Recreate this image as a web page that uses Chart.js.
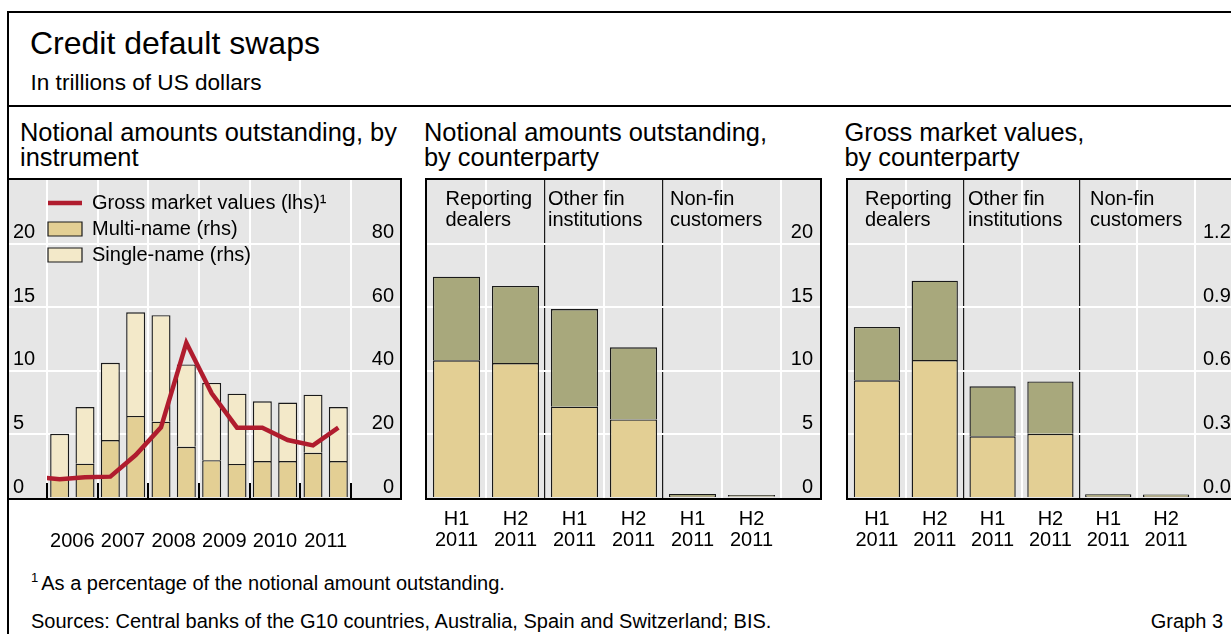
<!DOCTYPE html>
<html>
<head>
<meta charset="utf-8">
<script src="https://cdn.jsdelivr.net/npm/chart.js@4.4.1/dist/chart.umd.min.js"></script>
<style>
html,body{margin:0;padding:0;width:1231px;height:634px;overflow:hidden;background:#fff;
  font-family:"Liberation Sans",Arial,Helvetica,sans-serif;color:#000;}
.abs{position:absolute;white-space:nowrap;z-index:3;}
#frame{position:absolute;left:7px;top:11px;width:1400px;height:800px;border-left:2px solid #000;border-top:2px solid #000;}
#rule{position:absolute;left:7px;top:105px;width:1400px;height:2px;background:#000;}
canvas{position:absolute;z-index:1;}
.pt{font-size:25.4px;line-height:25px;}
.gl{font-size:20px;line-height:21px;}
.ft{font-size:20px;line-height:20px;}
</style>
</head>
<body>
<div id="frame"></div>
<div id="rule"></div>
<div class="abs" style="left:30px;top:26.5px;font-size:32px;line-height:32px;">Credit default swaps</div>
<div class="abs" style="left:30.5px;top:71.5px;font-size:22.6px;line-height:22px;">In trillions of US dollars</div>

<div class="abs pt" style="left:20px;top:120px;">Notional amounts outstanding, by<br>instrument</div>
<div class="abs pt" style="left:424px;top:120px;">Notional amounts outstanding,<br>by counterparty</div>
<div class="abs pt" style="left:844.5px;top:120px;">Gross market values,<br>by counterparty</div>

<canvas id="c1" width="395" height="380" style="left:7px;top:178px;width:395px;height:380px;"></canvas>
<canvas id="c2" width="397" height="380" style="left:425px;top:178px;width:397px;height:380px;"></canvas>
<canvas id="c3" width="420" height="380" style="left:846px;top:178px;width:420px;height:380px;"></canvas>

<div id="groups"></div>

<div class="abs ft" style="left:31px;top:573px;"><span style="font-size:13px;position:relative;top:-8px;margin-right:3px;">1</span>As a percentage of the notional amount outstanding.</div>
<div class="abs ft" style="left:31px;top:611px;">Sources: Central banks of the G10 countries, Australia, Spain and Switzerland; BIS.</div>
<div class="abs ft" style="right:8px;top:611px;">Graph 3</div>

<script>
// ---------- data ----------
const periods = ['2006 H1','2006 H2','2007 H1','2007 H2','2008 H1','2008 H2',
                 '2009 H1','2009 H2','2010 H1','2010 H2','2011 H1','2011 H2'];
const years = ['2006','2007','2008','2009','2010','2011'];
const multiName  = [6.3, 10.8, 18.2, 25.8, 24.0, 16.1, 11.9, 10.7, 11.6, 11.6, 14.2, 11.6];
const singleName = [13.9, 17.8, 24.3, 32.6, 33.5, 25.9, 24.3, 22.1, 18.8, 18.4, 18.3, 17.0];
// gross market values, % of notional (series starts one period earlier, enters from the left edge)
const grossPeriods = ['2005 H2'].concat(periods);
const grossMarketValues = [1.67, 1.47, 1.63, 1.68, 3.38, 5.56, 12.2, 8.23, 5.53, 5.53, 4.56, 4.14, 5.53];

const halfYears = [['H1','2011'],['H2','2011'],['H1','2011'],['H2','2011'],['H1','2011'],['H2','2011']];
const counterparties = [['Reporting','dealers'],['Other fin','institutions'],['Non-fin','customers']];
const notionalLower = [10.83, 10.61, 7.18, 6.18, 0.16, 0.12];
const notionalUpper = [6.57, 6.06, 7.68, 5.67, 0.15, 0.12];
const grossLower = [0.555, 0.651, 0.291, 0.303, 0.010, 0.010];
const grossUpper = [0.252, 0.374, 0.236, 0.247, 0.008, 0.007];

const lhsTicks = {max: 25, step: 5};
const rhsTicks = {max: 100, step: 20};
const gmvTicks = {max: 1.5, step: 0.3};

// ---------- style ----------
const FONT = '"Liberation Sans", Arial, Helvetica, sans-serif';
Chart.defaults.font.family = FONT;
Chart.defaults.font.size = 20;
Chart.defaults.color = '#000';
const GRAY = '#e6e6e6', TAN = '#e3cf94', CREAM = '#f3e9c9', OLIVE = '#a8a87c',
      RED = '#b01c2e', EDGE = '#1a1a1a', WHITE = '#ffffff', NONE = 'rgba(0,0,0,0)';
const BW = 1.4;

const panelBox = {
  id: 'panelBox',
  beforeDraw(chart) {
    const {ctx, chartArea, width} = chart;
    ctx.save(); ctx.fillStyle = GRAY; ctx.fillRect(0, 0, width, chartArea.bottom); ctx.restore();
  },
  afterDraw(chart) {
    const {ctx, chartArea, width} = chart;
    ctx.save(); ctx.strokeStyle = '#000'; ctx.lineWidth = 2;
    ctx.strokeRect(1, 1, width - 2, chartArea.bottom); ctx.restore();
  }
};
const legendShift = {
  id: 'legendShift',
  afterLayout(chart) {
    const l = chart.legend; if (!l) return;
    l.left -= 5; l.right -= 5; l.top += 9; l.bottom += 9;
  }
};

function hGrid(maxV) {
  return (ctx) => (ctx.tick && (ctx.tick.value === 0 || Math.abs(ctx.tick.value - maxV) < 1e-9)) ? NONE : WHITE;
}
function fixV(w) { return (s) => { s.width = w; s.paddingTop = 0; s.paddingBottom = 0; }; }
function fixH(h) { return (s) => { s.height = h; s.paddingLeft = 0; s.paddingRight = 0; }; }

const base = {
  responsive: false, animation: false, devicePixelRatio: 1, events: [],
};

// ---------- panel 1 ----------
new Chart(document.getElementById('c1'), {
  type: 'bar',
  data: {
    labels: periods,
    datasets: [
      {type: 'line', label: 'Gross market values (lhs)\u00B9', data: grossMarketValues,
       xAxisID: 'xl', yAxisID: 'yL', borderColor: RED, backgroundColor: RED, borderWidth: 4.5,
       pointRadius: 0, pointHoverRadius: 0, tension: 0, order: 0, clip: 0},
      {label: 'Multi-name (rhs)', data: multiName, xAxisID: 'x', yAxisID: 'yR', stack: 'cds', grouped: false,
       backgroundColor: TAN, borderColor: EDGE, borderWidth: BW, order: 1,
       barPercentage: 0.75, categoryPercentage: 1},
      {label: 'Single-name (rhs)', data: singleName, xAxisID: 'x', yAxisID: 'yR', stack: 'cds', grouped: false,
       backgroundColor: CREAM, borderColor: EDGE, borderWidth: BW, order: 2,
       barPercentage: 0.75, categoryPercentage: 1}
    ]
  },
  options: Object.assign({}, base, {
    layout: {padding: {left: 6, right: 8, top: 2, bottom: 0}},
    plugins: {
      tooltip: {enabled: false},
      legend: {
        position: 'chartArea', align: 'start',
        labels: {
          usePointStyle: true, pointStyleWidth: 34, boxHeight: 14, padding: 6,
          font: {size: 20}, color: '#000',
          generateLabels(chart) {
            const items = Chart.defaults.plugins.legend.labels.generateLabels(chart);
            items.forEach(it => {
              const ds = chart.data.datasets[it.datasetIndex];
              const isLine = ds.type === 'line';
              it.pointStyle = isLine ? 'line' : 'rect';
              it.lineWidth = isLine ? 4.5 : 1.2;
              it.strokeStyle = isLine ? RED : EDGE;
              it.fillStyle = ds.backgroundColor;
              it.lineCap = 'butt';
            });
            return items;
          }
        }
      }
    },
    scales: {
      x: {type: 'category', labels: periods, display: false, offset: true, stacked: true},
      xl: {type: 'category', labels: grossPeriods, min: periods[0], display: false, offset: true},
      xYear: {
        type: 'category', labels: years, position: 'bottom', offset: true,
        grid: {offset: true, color: WHITE, lineWidth: 2, tickLength: -15, tickColor: '#000', tickWidth: 2},
        border: {display: false},
        ticks: {padding: 47.5, font: {size: 20, lineHeight: 1.05}, maxRotation: 0, autoSkip: false},
        afterFit: fixH(60)
      },
      yL: {
        position: 'left', min: 0, max: lhsTicks.max,
        ticks: {stepSize: lhsTicks.step, crossAlign: 'far', labelOffset: -11, padding: 0,
                callback: v => v === lhsTicks.max ? '' : v},
        grid: {color: hGrid(lhsTicks.max), lineWidth: 2, tickLength: 40},
        border: {display: false},
        afterFit: fixV(34)
      },
      yR: {
        position: 'right', min: 0, max: rhsTicks.max, stacked: true,
        ticks: {stepSize: rhsTicks.step, crossAlign: 'far', labelOffset: -11, padding: 0,
                callback: v => v === rhsTicks.max ? '' : v},
        grid: {drawOnChartArea: false, color: hGrid(rhsTicks.max), lineWidth: 2, tickLength: 51},
        border: {display: false},
        afterFit: fixV(43)
      }
    }
  }),
  plugins: [panelBox, legendShift]
});

// ---------- panels 2 & 3 ----------
function sepColor(ctx) {
  if (ctx.index === 0) return NONE;
  return (ctx.index === 2 || ctx.index === 4) ? EDGE : WHITE;
}
function sepWidth(ctx) { return (ctx.index === 2 || ctx.index === 4) ? 1.2 : 2; }

function counterpartyChart(id, lower, upper, ticksDef, fmt, yOpts, padRight) {
  return new Chart(document.getElementById(id), {
    type: 'bar',
    data: {
      labels: halfYears,
      datasets: [
        {label: 'lower', data: lower, backgroundColor: TAN, borderColor: EDGE, borderWidth: BW,
         stack: 'cp', barPercentage: 0.8, categoryPercentage: 1},
        {label: 'upper', data: upper, backgroundColor: OLIVE, borderColor: EDGE, borderWidth: BW,
         stack: 'cp', barPercentage: 0.8, categoryPercentage: 1}
      ]
    },
    options: Object.assign({}, base, {
      layout: {padding: {left: 2, right: padRight, top: 2, bottom: 0}},
      plugins: {legend: {display: false}, tooltip: {enabled: false}},
      scales: {
        x: {
          stacked: true, offset: true,
          grid: {offset: true, color: sepColor, lineWidth: sepWidth, drawTicks: false},
          border: {display: false},
          ticks: {padding: 10.5, font: {size: 20, lineHeight: 1.05}, maxRotation: 0, autoSkip: false},
          afterFit: fixH(60)
        },
        y: {
          position: 'right', stacked: true, min: 0, max: ticksDef.max,
          grid: {color: hGrid(ticksDef.max), lineWidth: 2, tickLength: yOpts.tl},
          border: {display: false},
          afterFit: fixV(yOpts.width),
          ticks: Object.assign({stepSize: ticksDef.step, labelOffset: -11,
              callback: v => (v > ticksDef.max - ticksDef.step / 2) ? '' : fmt(v)}, yOpts.ticks)
        }
      }
    }),
    plugins: [panelBox]
  });
}

counterpartyChart('c2', notionalLower, notionalUpper, lhsTicks, v => v,
  {tl: 39, width: 32, ticks: {crossAlign: 'far', padding: 0}}, 9);
counterpartyChart('c3', grossLower, grossUpper, gmvTicks, v => v.toFixed(1),
  {tl: 71, width: 71, ticks: {crossAlign: 'near', padding: -63}}, 0);

// group labels (text overlays inside panels 2 & 3)
const groupX = [[445.5, 548, 670], [865, 968, 1090]];
const g = document.getElementById('groups');
groupX.forEach(xs => xs.forEach((x, i) => {
  const d = document.createElement('div');
  d.className = 'abs gl';
  d.style.left = x + 'px';
  d.style.top = '187.5px';
  d.innerHTML = counterparties[i].join('<br>');
  g.appendChild(d);
}));
</script>
</body>
</html>
